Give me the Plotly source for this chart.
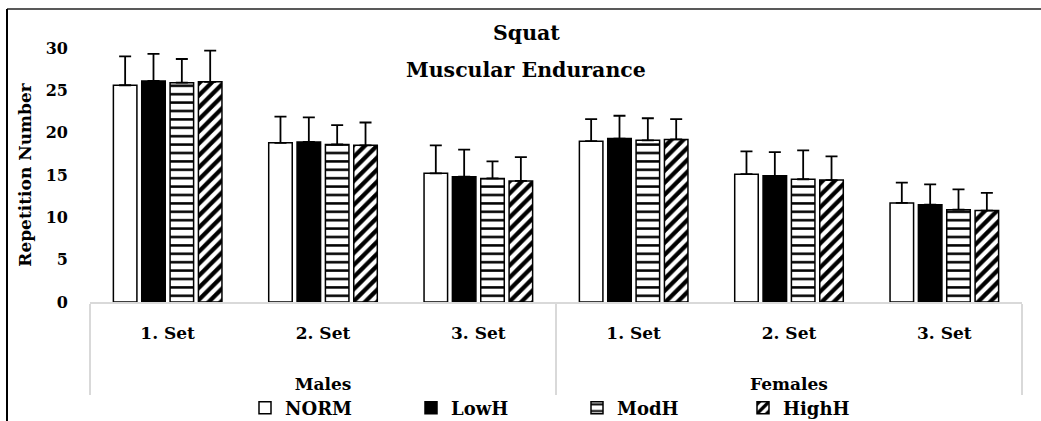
import plotly.graph_objects as go

genders = ["Males"] * 3 + ["Females"] * 3
sets = ["1. Set", "2. Set", "3. Set"] * 2

groups = ["NORM", "LowH", "ModH", "HighH"]

norm_mean = [25.6, 18.8, 15.2, 19.0, 15.1, 11.7]
norm_sd = [3.4, 3.1, 3.3, 2.6, 2.7, 2.4]
lowh_mean = [26.1, 18.9, 14.8, 19.3, 14.9, 11.5]
lowh_sd = [3.2, 2.9, 3.2, 2.7, 2.8, 2.4]
modh_mean = [25.9, 18.6, 14.6, 19.1, 14.5, 10.9]
modh_sd = [2.8, 2.3, 2.0, 2.6, 3.4, 2.4]
highh_mean = [26.0, 18.5, 14.3, 19.2, 14.4, 10.8]
highh_sd = [3.7, 2.7, 2.8, 2.4, 2.8, 2.1]

y_ticks = [0, 5, 10, 15, 20, 25, 30]

FONT = "DejaVu Serif"

styles = {
    "NORM": dict(color="white", pattern=None),
    "LowH": dict(color="black", pattern=None),
    "ModH": dict(color="white", pattern=dict(shape="-", fgcolor="black", bgcolor="white",
                                             fgopacity=1, size=8.4, solidity=0.3)),
    "HighH": dict(color="white", pattern=dict(shape="/", fgcolor="black", bgcolor="white",
                                              fgopacity=1, size=8.5, solidity=0.5)),
}
means = {"NORM": norm_mean, "LowH": lowh_mean, "ModH": modh_mean, "HighH": highh_mean}
sds = {"NORM": norm_sd, "LowH": lowh_sd, "ModH": modh_sd, "HighH": highh_sd}

# second-level labels get leading line breaks so they sit lower, as in the reference
gender_labels = ["<br><br>" + g for g in genders]

fig = go.Figure()
for g in groups:
    st = styles[g]
    marker = dict(color=st["color"], line=dict(color="black", width=1.5))
    if st["pattern"]:
        marker["pattern"] = st["pattern"]
    fig.add_trace(go.Bar(
        name=g,
        x=[gender_labels, sets],
        y=means[g],
        marker=marker,
        error_y=dict(type="data", array=sds[g], arrayminus=[0] * len(sds[g]),
                     symmetric=False, color="black", thickness=1.8, width=6),
    ))

W, H = 1041, 421
L, R, T, B = 90, 19, 48, 119
pw, ph = W - L - R, H - T - B

def px_x(px):
    return (px - L) / pw

def px_y(py):
    return (H - B - py) / ph

bold = dict(family=FONT, color="black", weight="bold")

fig.update_layout(
    width=W, height=H,
    margin=dict(l=L, r=R, t=T, b=B, autoexpand=False),
    paper_bgcolor="white", plot_bgcolor="white",
    barmode="group", bargap=0.27, bargroupgap=0.17,
    font=dict(size=17, **bold),
    showlegend=True,
    legend=dict(orientation="h", x=px_x(245), xanchor="left", y=px_y(408), yanchor="middle",
                font=dict(size=18, **bold),
                entrywidth=121, entrywidthmode="pixels", bgcolor="rgba(0,0,0,0)"),
    xaxis=dict(
        type="multicategory", showline=True, linecolor="#d9d9d9", linewidth=1.5,
        showdividers=True, dividercolor="#d9d9d9", dividerwidth=1.5,
        showgrid=False, ticks="", ticklabelstandoff=15, automargin=False,
        tickfont=dict(size=17, **bold),
    ),
    yaxis=dict(
        range=[0, 30], tickvals=y_ticks, showgrid=False, zeroline=False, showline=False,
        ticks="", ticklabelstandoff=21, automargin=False,
        tickfont=dict(size=16, **bold),
        title=dict(text="Repetition Number", standoff=9, font=dict(size=17, **bold)),
    ),
    annotations=[
        dict(text="Squat", xref="paper", yref="paper", x=px_x(526), y=px_y(33),
             xanchor="center", yanchor="middle", showarrow=False,
             font=dict(size=20.5, **bold)),
        dict(text="Muscular Endurance", xref="paper", yref="paper", x=px_x(526), y=px_y(70),
             xanchor="center", yanchor="middle", showarrow=False,
             font=dict(size=20.5, **bold)),
    ],
    shapes=[
        dict(type="line", xref="paper", yref="paper", x0=px_x(7), x1=px_x(1045),
             y0=px_y(9), y1=px_y(9), line=dict(color="#595959", width=2)),
        dict(type="line", xref="paper", yref="paper", x0=px_x(7), x1=px_x(7),
             y0=px_y(9), y1=px_y(430), line=dict(color="black", width=2)),
    ],
)

fig.write_html("out.html", config={"displayModeBar": False},
               post_script="document.body.style.margin='0';")
